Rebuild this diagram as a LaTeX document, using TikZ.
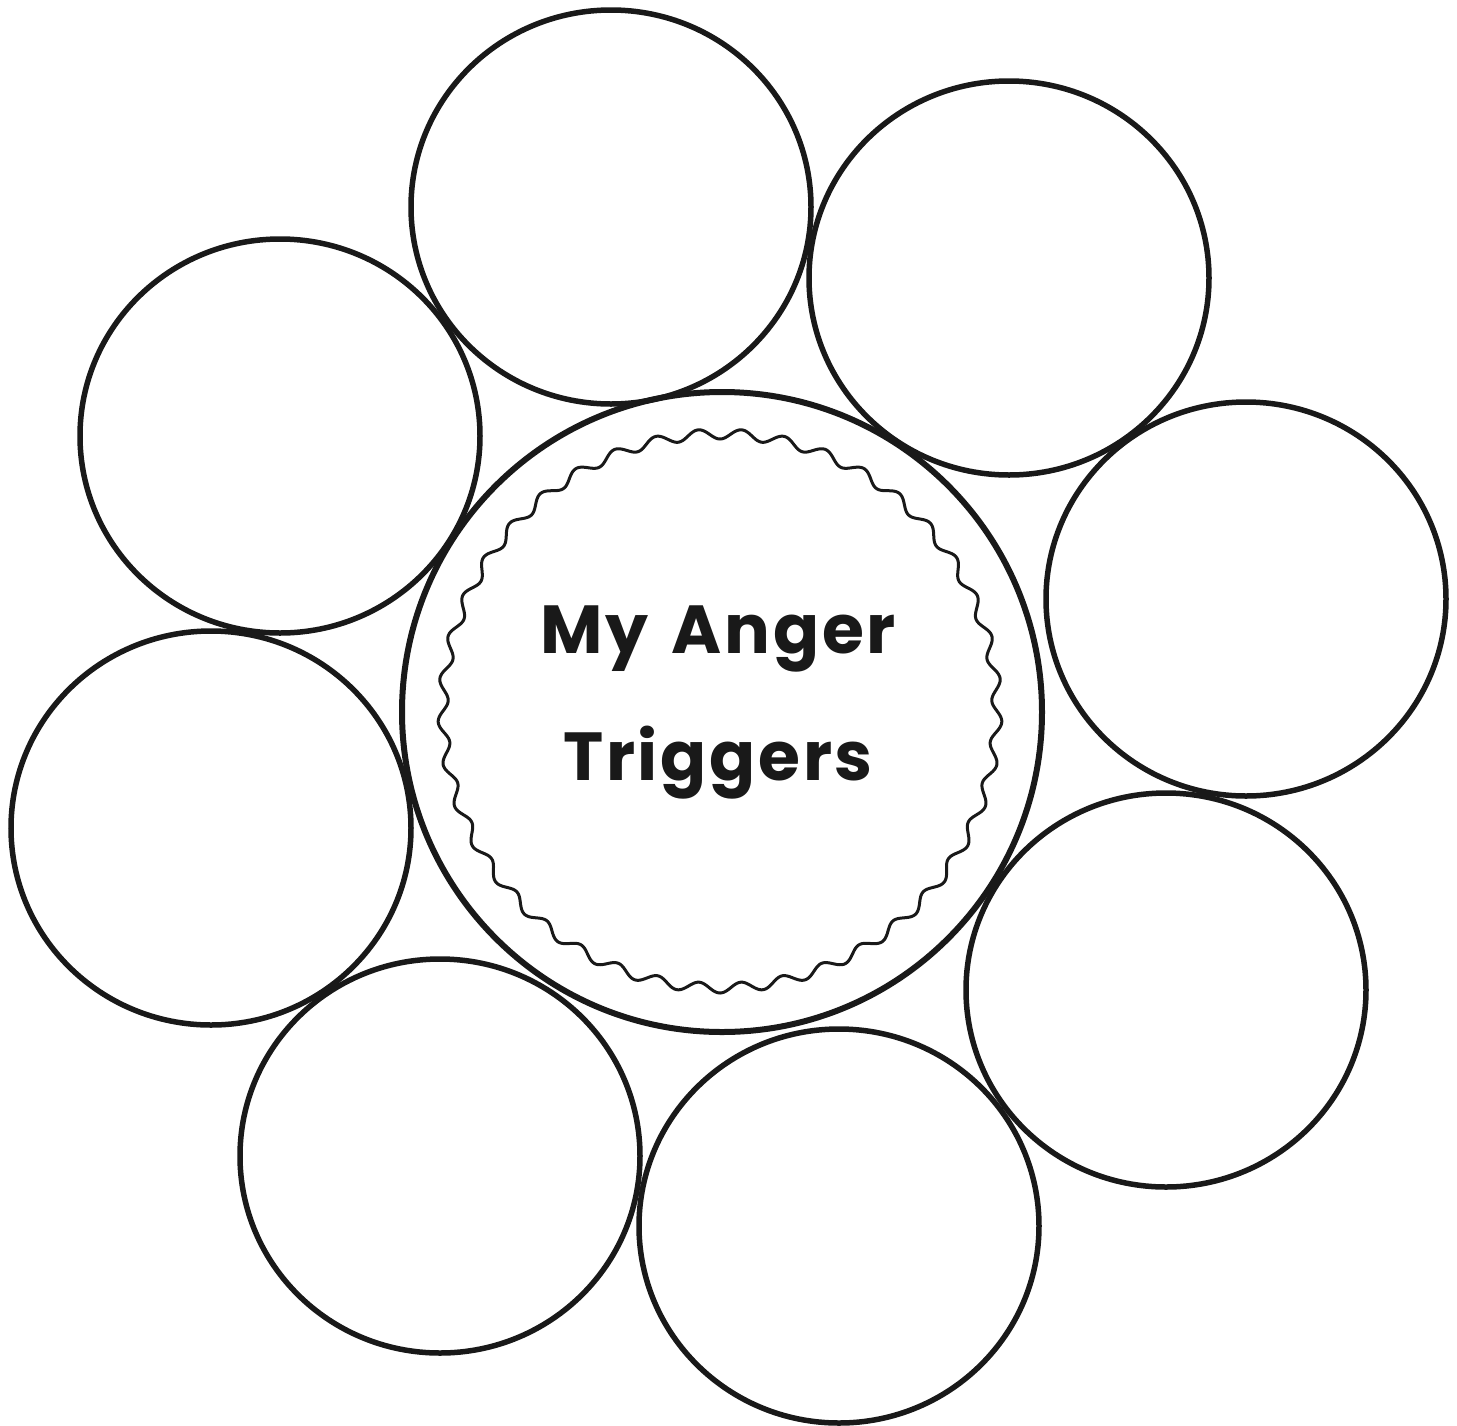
\documentclass[tikz,border=0pt]{standalone}
\usepackage{fontspec}
\usetikzlibrary{shapes.geometric}
\newfontfamily\titlefont[LetterSpace=4]{Poppins}
\tikzset{
  petal/.style={draw=black!90, line width=5.5pt, ellipse, inner sep=0pt, minimum width=400pt, minimum height=394pt},
  hub/.style={draw=black!90, line width=6pt, circle, inner sep=0pt, minimum size=640pt},
  wavy/.style={draw=black!90, line width=3pt},
  title/.style={font=\titlefont\bfseries\fontsize{68}{128}\selectfont, text=black!90, align=center}
}
\begin{document}
\begin{tikzpicture}[x=1pt, y=-1pt]
\useasboundingbox[fill=white] (0,0) rectangle (1457,1425);
\node[hub] (hub) at (722,712) {};
\node[petal] (p1) at (611,207) {};
\node[petal] (p2) at (1009,278) {};
\node[petal] (p3) at (1246,599) {};
\node[petal] (p4) at (1166,990) {};
\node[petal] (p5) at (839,1226) {};
\node[petal] (p6) at (440,1156) {};
\node[petal] (p7) at (211,828) {};
\node[petal] (p8) at (280,436) {};
\draw[wavy] plot[domain=0:360, samples=1441, smooth]
  ({720+(277+5*sin(41*\x))*cos(\x)}, {711+(277+5*sin(41*\x))*sin(\x)}) -- cycle;
\node[title] (t1) at (718,639) {My\hspace{0.35em}Anger};
\node[title] (t2) at (718,763) {Triggers};
\end{tikzpicture}
\end{document}
